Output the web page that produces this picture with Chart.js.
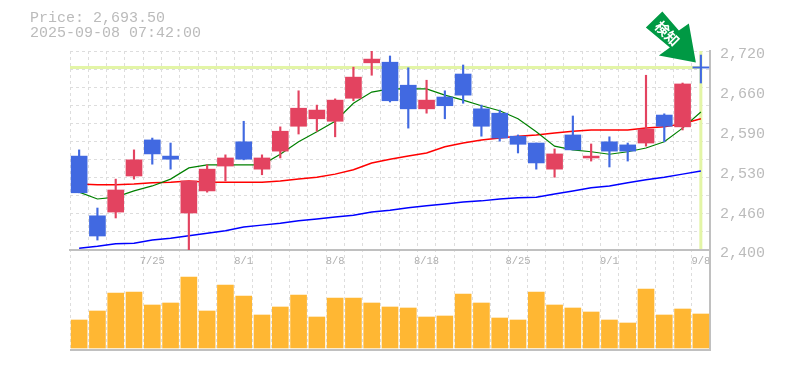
<!DOCTYPE html>
<html>
<head>
<meta charset="utf-8">
<script src="https://cdn.jsdelivr.net/npm/chart.js@4/dist/chart.umd.min.js"></script>
<style>
  body { margin: 0; background: #fff; }
  #wrap { position: relative; width: 785px; height: 370px; }
  #info { position: absolute; left: 30px; top: 11px; font: 15px/15px "Liberation Mono", monospace; color: #bbb; white-space: pre; }
</style>
</head>
<body>
<div id="wrap">
  <div id="info">Price: 2,693.50
2025-09-08 07:42:00</div>
  <canvas id="grafico" width="785" height="370"></canvas>
</div>
<script>
const dates = ['7/18','7/22','7/23','7/24','7/25','7/28','7/29','7/30','7/31','8/1',
  '8/4','8/5','8/6','8/7','8/8','8/12','8/13','8/14','8/15','8/18',
  '8/19','8/20','8/21','8/22','8/25','8/26','8/27','8/28','8/29','9/1',
  '9/2','9/3','9/4','9/5','9/8'];
const shownDates = ['7/25','8/1','8/8','8/18','8/25','9/1','9/8'];

const bodyTop = [2551,2455,2496.5,2545,2577,2551,2511,2530,2548,2574,2548,2591,2628,2625,2641,2678,2707,2702,2665,2641,2646,2683,2627,2620,2583,2572,2554.5,2585,2551,2574,2569,2594.5,2617,2667,2694.5];
const bodyBottom = [2492,2422.5,2461,2519,2554.5,2546,2459.5,2495,2535,2546,2530,2559,2599,2611,2607,2644,2701,2640,2627,2627,2632,2649,2599,2580,2570,2540,2530,2561,2548,2559,2559,2572,2599,2598,2692.5];
const highs = [2561,2467.5,2514,2561,2580,2572,2511,2537,2553,2607,2553,2598,2656,2633,2643,2694,2720,2712,2693,2673,2656,2697.5,2633,2625,2585,2572,2562.5,2615.5,2570.5,2582,2572,2681,2619,2668.5,2713.5];
const lows = [2492,2416,2451.5,2514,2538,2530,2400,2493,2511,2545,2521,2548,2586.5,2591,2582,2640,2681,2638,2596,2620,2611,2636,2583,2575,2556,2530,2517,2561,2543,2533.5,2543,2567,2574,2593,2668.5];
// true = close above open
const rising = [0,0,1,1,0,0,1,1,1,0,1,1,1,1,1,1,1,0,0,1,0,0,0,0,0,0,1,0,1,0,0,1,0,1,0];

const maShort = [2493,2482,2485,2495,2503,2514,2532,2537,2537,2537,2537,2554,2574,2590,2607,2636,2654,2659,2659,2659,2649,2641,2632,2624,2611,2590,2567,2561,2558,2554,2558,2564,2574,2596,2622];
const maMid = [2506,2505,2505,2506,2508,2509,2511,2509,2509,2509,2509,2511,2514,2517,2522,2529,2540,2546,2551,2556,2566,2572,2577,2580,2583,2585,2588,2591,2593,2593,2593,2596,2598,2603,2611];
const maLong = [2403,2406,2410,2411,2416,2419,2423,2427,2431,2437,2440,2443,2447,2450,2453,2456,2461,2464,2468,2471,2474,2477,2479,2482,2484,2485,2490,2495,2500,2503,2508,2513,2517,2522,2527];

const volumes = [28,37,55,56,43,45,71,37,63,52,33,41,53,31,50,50,45,41,40,31,32,54,45,30,28,56,43,40,36,28,25,59,33,39,34];

const priceTicks = [2720,2656,2592,2528,2464,2400];
const gridSteps = 11;
const currentPrice = 2693.5;

const GREY = '#bbbbbb';
const GRID = '#dddddd';
const UP = '#e34360';
const DOWN = '#4169e1';
const HILITE = '#e3f5a6';
const candleColors = rising.map(r => r ? UP : DOWN);

const extras = {
  id: 'extras',
  beforeDatasetsDraw(chart) {
    const { ctx, chartArea, scales: { x, y } } = chart;
    const px = x.getPixelForValue(dates.length - 1);
    const py = y.getPixelForValue(currentPrice);
    ctx.save();
    ctx.fillStyle = HILITE;
    ctx.fillRect(chartArea.left, py - 1.5, px - chartArea.left, 3);
    ctx.fillRect(px - 1.5, chartArea.top, 3, y.bottom - 1 - chartArea.top);
    ctx.strokeStyle = '#c0c0c0';
    ctx.lineWidth = 2;
    ctx.beginPath();
    ctx.moveTo(chartArea.left, chartArea.bottom);
    ctx.lineTo(chartArea.right + 1, chartArea.bottom);
    ctx.stroke();
    ctx.restore();
  },
  afterDraw(chart) {
    const { ctx, scales: { x, y } } = chart;
    // arrow hangs off the last price
    const tipX = x.getPixelForValue(dates.length - 1) - 5;
    const tipY = y.getPixelForValue(currentPrice) - 5;
    const pts = [[0,0],[-37,-7],[-26,-15],[-50,-35],[-33.5,-51],[-17,-32],[-7,-39]];
    ctx.save();
    ctx.fillStyle = '#009944';
    ctx.beginPath();
    pts.forEach((p, i) => i ? ctx.lineTo(tipX + p[0], tipY + p[1]) : ctx.moveTo(tipX + p[0], tipY + p[1]));
    ctx.closePath();
    ctx.fill();
    ctx.translate(tipX - 28.5, tipY - 29);
    ctx.rotate(Math.PI / 4);
    ctx.fillStyle = '#fff';
    ctx.font = 'bold 14px "Noto Sans CJK JP"';
    ctx.textAlign = 'center';
    ctx.textBaseline = 'middle';
    ctx.fillText('検知', 0, 0);
    ctx.restore();
  }
};

new Chart(document.getElementById('grafico').getContext('2d'), {
  data: {
    labels: dates,
    datasets: [
      { type: 'bar', label: 'Body', data: bodyTop.map((t, i) => [bodyBottom[i], t]), backgroundColor: candleColors, barThickness: 16, grouped: false, order: 1 },
      { type: 'bar', label: 'Wick', data: highs.map((h, i) => [lows[i], h]), backgroundColor: candleColors, barThickness: 1.5, grouped: false, order: 2 },
      { type: 'line', label: 'MA short', data: maShort, borderColor: '#008000', borderWidth: 1.2, pointRadius: 0, tension: 0, order: 3 },
      { type: 'line', label: 'MA mid', data: maMid, borderColor: '#ff0000', borderWidth: 1.5, pointRadius: 0, tension: 0, order: 4 },
      { type: 'line', label: 'MA long', data: maLong, borderColor: '#0000ff', borderWidth: 1.5, pointRadius: 0, tension: 0, order: 5 },
      { type: 'bar', label: 'Volume', data: volumes, yAxisID: 'vol', backgroundColor: '#ffb733', barThickness: 16, grouped: false, order: 6 }
    ]
  },
  options: {
    responsive: false,
    animation: false,
    layout: { padding: { left: 70, top: 51, right: 0, bottom: 20 } },
    plugins: { legend: { display: false }, tooltip: { enabled: false }, title: { display: false } },
    scales: {
      x: {
        type: 'category',
        position: { y: 2400 },
        afterFit(scale) { scale.height = 0; },
        grid: { color: GRID, drawTicks: false, offset: true },
        border: { color: '#c0c0c0', width: 2, dash: [3, 3] },
        ticks: {
          autoSkip: false, maxRotation: 0, padding: 5, color: '#b0b0b0',
          font: { family: '"Liberation Mono", monospace', size: 10.5 },
          callback(value) {
            const d = dates[value];
            return shownDates.includes(d) ? d : '';
          }
        }
      },
      y: {
        position: 'right',
        stack: 'panels',
        stackWeight: 199,
        min: 2400,
        max: 2720,
        afterBuildTicks(scale) {
          const gridVals = [];
          for (let i = 0; i <= gridSteps; i++) gridVals.push(2400 + 320 * i / gridSteps);
          const extra = priceTicks.filter(v => v !== 2400 && v !== 2720);
          scale.ticks = gridVals.concat(extra).sort((a, b) => a - b).map(v => ({ value: v }));
        },
        afterFit(scale) { scale.width = 75; },
        grid: {
          drawTicks: false,
          color: c => (c.tick && priceTicks.includes(c.tick.value) && c.tick.value !== 2400 && c.tick.value !== 2720) ? 'rgba(0,0,0,0)' : GRID
        },
        border: { color: '#c0c0c0', width: 2, dash: [3, 3] },
        ticks: {
          autoSkip: false, padding: 10, labelOffset: 3.5, color: GREY, crossAlign: 'near',
          font: { family: '"Liberation Mono", monospace', size: 15 },
          callback: v => priceTicks.includes(v) ? (Math.round(v / 10) * 10).toLocaleString('en-US') : ''
        }
      },
      vol: {
        position: 'right',
        stack: 'panels',
        stackWeight: 100,
        min: -2,
        max: 98,
        afterFit(scale) { scale.width = 75; },
        grid: { display: false },
        border: { color: '#c0c0c0', width: 2 },
        ticks: { display: false }
      }
    }
  },
  plugins: [extras]
});
</script>
</body>
</html>
